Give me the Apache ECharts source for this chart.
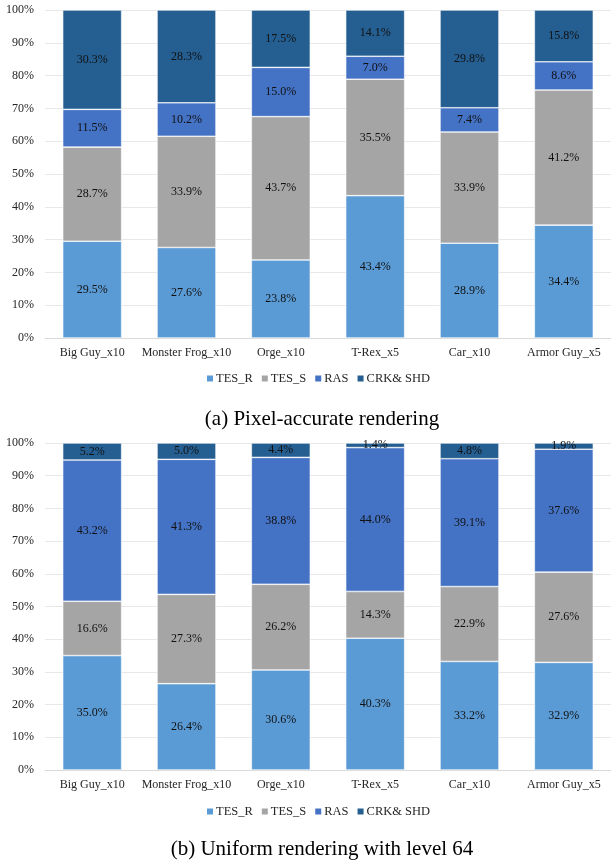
<!DOCTYPE html>
<html>
<head>
<meta charset="utf-8">
<script src="https://cdn.jsdelivr.net/npm/echarts@6/dist/echarts.min.js"></script>
<style>
  html, body { margin: 0; padding: 0; background: #fff; }
  #chart { width: 611px; height: 861px; }
</style>
</head>
<body>
<div id="chart"></div>
<script>
// Scenes on the x axis
const categories = ['Big Guy_x10', 'Monster Frog_x10', 'Orge_x10', 'T-Rex_x5', 'Car_x10', 'Armor Guy_x5'];
const seriesNames = ['TES_R', 'TES_S', 'RAS', 'CRK& SHD'];

// (a) Pixel-accurate rendering: share of time per stage (%)
const pixelTesR = [29.5, 27.6, 23.8, 43.4, 28.9, 34.4];
const pixelTesS = [28.7, 33.9, 43.7, 35.5, 33.9, 41.2];
const pixelRas  = [11.5, 10.2, 15.0, 7.0, 7.4, 8.6];
const pixelCrk  = [30.3, 28.3, 17.5, 14.1, 29.8, 15.8];

// (b) Uniform rendering with level 64: share of time per stage (%)
const uniformTesR = [35.0, 26.4, 30.6, 40.3, 33.2, 32.9];
const uniformTesS = [16.6, 27.3, 26.2, 14.3, 22.9, 27.6];
const uniformRas  = [43.2, 41.3, 38.8, 44.0, 39.1, 37.6];
const uniformCrk  = [5.2, 5.0, 4.4, 1.4, 4.8, 1.9];

const yTicks = [0, 10, 20, 30, 40, 50, 60, 70, 80, 90, 100];

const colors = ['#5B9BD5', '#A5A5A5', '#4472C4', '#255E91'];
const font = 'Liberation Serif';

function xAxis(gridIndex) {
  return {
    type: 'category', gridIndex, data: categories,
    axisTick: { show: false },
    axisLine: { lineStyle: { color: '#D9D9D9', width: 1 } },
    axisLabel: { fontFamily: font, fontSize: 12, color: '#262626', margin: 9, interval: 0 }
  };
}
function yAxis(gridIndex) {
  return {
    type: 'value', gridIndex, min: yTicks[0], max: yTicks[yTicks.length - 1], interval: 10,
    axisLine: { show: false }, axisTick: { show: false },
    splitLine: { lineStyle: { color: '#E8E8E8', width: 1 } },
    axisLabel: { fontFamily: font, fontSize: 12, color: '#262626', margin: 11, formatter: v => v + '%' }
  };
}
function makeSeries(dataSets, idx, stack) {
  return dataSets.map((d, i) => ({
    name: seriesNames[i], type: 'bar', stack,
    xAxisIndex: idx, yAxisIndex: idx,
    barCategoryGap: '37.5%',
    data: d,
    itemStyle: { color: colors[i], borderColor: '#ffffff', borderWidth: 0.6 },
    label: {
      show: true, position: 'inside', fontFamily: font, fontSize: 12, color: '#111',
      formatter: p => p.value.toFixed(1) + '%'
    },
    labelLayout: { hideOverlap: false },
    emphasis: { disabled: true }
  }));
}
function legend(top) {
  return {
    top, left: 202, data: seriesNames, itemWidth: 6, itemHeight: 6, itemGap: 9,
    icon: 'rect', selectedMode: false,
    itemStyle: { borderWidth: 0 },
    textStyle: { fontFamily: font, fontSize: 12.5, color: '#262626', padding: [0, 0, 0, -2] }
  };
}
function caption(text, top) {
  return {
    text, left: 317, textAlign: 'center', top,
    textStyle: { fontFamily: font, fontSize: 21, fontWeight: 'normal', color: '#000' }
  };
}

const chart = echarts.init(document.getElementById('chart'), null, { renderer: 'canvas' });
chart.setOption({
  animation: false,
  color: colors,
  title: [
    caption('(a) Pixel-accurate rendering', 404),
    caption('(b) Uniform rendering with level 64', 834)
  ],
  legend: [legend(367), legend(800)],
  grid: [
    { left: 45, width: 576, top: 10, height: 328 },
    { left: 45, width: 576, top: 443, height: 327 }
  ],
  xAxis: [xAxis(0), xAxis(1)],
  yAxis: [yAxis(0), yAxis(1)],
  series: [
    ...makeSeries([pixelTesR, pixelTesS, pixelRas, pixelCrk], 0, 'a'),
    ...makeSeries([uniformTesR, uniformTesS, uniformRas, uniformCrk], 1, 'b')
  ]
});
</script>
</body>
</html>
